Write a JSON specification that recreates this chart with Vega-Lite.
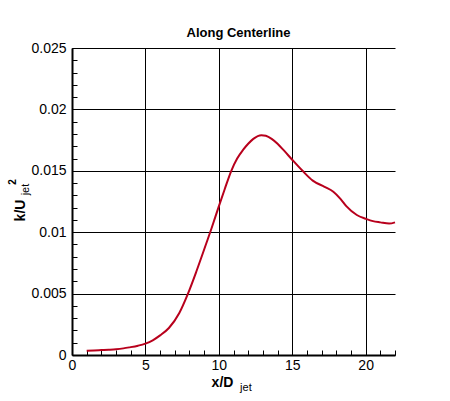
{
  "$schema": "https://vega.github.io/schema/vega-lite/v6.json",
  "width": 323,
  "height": 307,
  "autosize": "none",
  "padding": {"left": 72, "top": 48, "right": 55, "bottom": 46},
  "background": "white",
  "config": {"view": {"stroke": null}, "font": "Liberation Sans"},
  "title": {
    "text": "Along Centerline",
    "font": "Liberation Sans",
    "fontSize": 13,
    "fontWeight": "bold",
    "color": "black",
    "anchor": "middle",
    "frame": "group",
    "dx": 5,
    "dy": 18,
    "offset": 9,
    "baseline": "alphabetic"
  },
  "data": {
    "values": [
      {"x": 1.0, "k": 0.00035},
      {"x": 1.5, "k": 0.00037},
      {"x": 2.0, "k": 0.0004},
      {"x": 2.5, "k": 0.00043},
      {"x": 3.0, "k": 0.00047},
      {"x": 3.5, "k": 0.00054},
      {"x": 3.9, "k": 0.00062},
      {"x": 4.5, "k": 0.00076},
      {"x": 5.0, "k": 0.00093},
      {"x": 5.5, "k": 0.0012},
      {"x": 6.0, "k": 0.0016},
      {"x": 6.6, "k": 0.0022},
      {"x": 7.3, "k": 0.0034},
      {"x": 7.9, "k": 0.005},
      {"x": 8.5, "k": 0.0069},
      {"x": 9.15, "k": 0.0091},
      {"x": 9.5, "k": 0.0103},
      {"x": 10.0, "k": 0.0121},
      {"x": 10.4, "k": 0.0135},
      {"x": 10.85, "k": 0.015},
      {"x": 11.25, "k": 0.016},
      {"x": 11.65, "k": 0.0167},
      {"x": 12.0, "k": 0.0172},
      {"x": 12.35, "k": 0.0176},
      {"x": 12.9, "k": 0.0179},
      {"x": 13.2, "k": 0.01785},
      {"x": 13.6, "k": 0.0176},
      {"x": 14.0, "k": 0.0172},
      {"x": 14.4, "k": 0.0167},
      {"x": 15.0, "k": 0.0159},
      {"x": 15.7, "k": 0.015},
      {"x": 16.4, "k": 0.0142},
      {"x": 17.2, "k": 0.0137},
      {"x": 17.8, "k": 0.0133},
      {"x": 18.3, "k": 0.0127},
      {"x": 18.7, "k": 0.0121},
      {"x": 19.4, "k": 0.0114},
      {"x": 20.0, "k": 0.0111},
      {"x": 20.5, "k": 0.0109},
      {"x": 21.0, "k": 0.0108},
      {"x": 21.6, "k": 0.0107},
      {"x": 22.0, "k": 0.0108}
    ]
  },
  "resolve": {"axis": {"x": "independent", "y": "independent"}},
  "layer": [
    {
      "mark": {"type": "line", "color": "#b8001c", "strokeWidth": 2, "interpolate": "monotone"},
      "encoding": {
        "x": {
          "field": "x",
          "type": "quantitative",
          "scale": {"domain": [0, 22], "nice": false},
          "axis": {
            "orient": "bottom",
            "values": [0, 5, 10, 15, 20],
            "title": "x/D",
            "titleFont": "Liberation Sans",
            "titleFontSize": 14,
            "titleFontWeight": "bold",
            "titleColor": "black",
            "titleX": 150,
            "titleY": 31,
            "titleBaseline": "alphabetic",
            "labelFont": "Liberation Sans",
            "labelFontSize": 14,
            "labelColor": "black",
            "labelPadding": 3,
            "labelFlush": false,
            "ticks": false,
            "domainColor": "black",
            "domainWidth": 2,
            "grid": true,
            "gridColor": "black",
            "gridOpacity": 1,
            "gridWidth": 1
          }
        },
        "y": {
          "field": "k",
          "type": "quantitative",
          "scale": {"domain": [0, 0.025], "nice": false},
          "axis": {
            "orient": "left",
            "values": [0, 0.005, 0.01, 0.015, 0.02, 0.025],
            "format": "~g",
            "title": "k/U",
            "titleFont": "Liberation Sans",
            "titleFontSize": 14,
            "titleFontWeight": "bold",
            "titleColor": "black",
            "titleAngle": 270,
            "titleX": -48,
            "titleY": 162,
            "titleBaseline": "alphabetic",
            "labelFont": "Liberation Sans",
            "labelFontSize": 14,
            "labelColor": "black",
            "labelPadding": 6,
            "labelFlush": false,
            "ticks": false,
            "domainColor": "black",
            "domainWidth": 2,
            "grid": true,
            "gridColor": "black",
            "gridOpacity": 1,
            "gridWidth": 1
          }
        }
      }
    },
    {
      "mark": {"type": "line", "opacity": 0},
      "encoding": {
        "x": {
          "field": "x",
          "type": "quantitative",
          "scale": {"domain": [0, 22], "nice": false},
          "axis": {
            "orient": "bottom",
            "values": [1, 2, 3, 4, 5, 6, 7, 8, 9, 10, 11, 12, 13, 14, 15, 16, 17, 18, 19, 20, 21, 22],
            "labels": false,
            "domain": false,
            "grid": false,
            "ticks": true,
            "tickSize": -5,
            "tickColor": "black",
            "tickWidth": 1,
            "title": null
          }
        },
        "y": {
          "field": "k",
          "type": "quantitative",
          "scale": {"domain": [0, 0.025], "nice": false},
          "axis": {
            "orient": "left",
            "values": [0.001, 0.002, 0.003, 0.004, 0.005, 0.006, 0.007, 0.008, 0.009, 0.01, 0.011, 0.012, 0.013, 0.014, 0.015, 0.016, 0.017, 0.018, 0.019, 0.02, 0.021, 0.022, 0.023, 0.024, 0.025],
            "labels": false,
            "domain": false,
            "grid": false,
            "ticks": true,
            "tickSize": -5,
            "tickColor": "black",
            "tickWidth": 1,
            "title": null
          }
        }
      }
    },
    {
      "data": {"values": [{"label": "jet"}]},
      "mark": {"type": "text", "font": "Liberation Sans", "fontSize": 11, "color": "black", "align": "left", "baseline": "alphabetic"},
      "encoding": {
        "text": {"field": "label"},
        "x": {"datum": 11.45, "type": "quantitative", "axis": null},
        "y": {"datum": -0.0029, "type": "quantitative", "axis": null}
      }
    },
    {
      "data": {"values": [{"label": "jet"}]},
      "mark": {"type": "text", "font": "Liberation Sans", "fontSize": 11, "color": "black", "align": "left", "baseline": "alphabetic", "angle": 270},
      "encoding": {
        "text": {"field": "label"},
        "x": {"datum": -2.93, "type": "quantitative", "axis": null},
        "y": {"datum": 0.013, "type": "quantitative", "axis": null}
      }
    },
    {
      "data": {"values": [{"label": "2"}]},
      "mark": {"type": "text", "font": "Liberation Sans", "fontSize": 10, "fontWeight": "bold", "color": "black", "align": "center", "baseline": "alphabetic", "angle": 270},
      "encoding": {
        "text": {"field": "label"},
        "x": {"datum": -3.82, "type": "quantitative", "axis": null},
        "y": {"datum": 0.0141, "type": "quantitative", "axis": null}
      }
    }
  ]
}
